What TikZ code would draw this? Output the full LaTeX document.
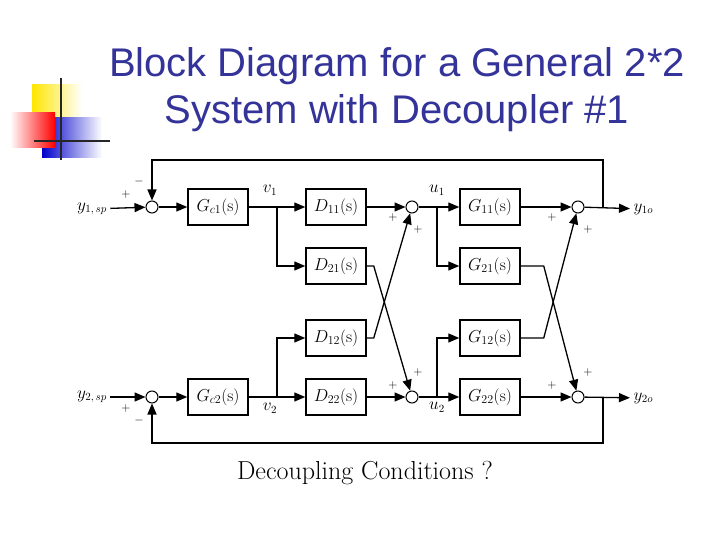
\documentclass[tikz,border=0pt]{standalone}
\usepackage{fontspec}
\newfontfamily\titlefont{Liberation Sans}
\usetikzlibrary{arrows.meta}
\definecolor{titleblue}{RGB}{51,51,153}
\tikzset{
  blk/.style={draw, line width=1.5pt, minimum width=60pt, minimum height=36pt, inner sep=0pt, font=\fontsize{17}{17}\selectfont},
  sum/.style={draw, line width=1pt, circle, minimum size=12pt, inner sep=0pt},
  sgn/.style={font=\fontsize{13}{13}\selectfont},
  lbl/.style={font=\fontsize{16}{16}\selectfont},
  sig/.style={-{Triangle[length=11pt,width=9pt]}},
}
\begin{document}
\begin{tikzpicture}[x=1pt,y=-1pt]
\useasboundingbox (0,0) rectangle (720,540);

% logo
\shade[left color=yellow!80!orange, right color=white] (32,85) rectangle (82,120);
\shade[left color=blue!80!black, right color=white] (42,118) rectangle (102,158);
\shade[left color=white, right color=red] (10,113) rectangle (55,148);
\draw[line width=2pt, black!85] (61,78) -- (61,160);
\draw[line width=2pt, black!85] (34,141) -- (110,141);

% title
\node[font=\titlefont\fontsize{40}{47}\selectfont, text=titleblue, align=center] (title) at (397,90)
  {Block Diagram for a General 2*2\\System with Decoupler \#1};

% blocks
\node[sum] (s1) at (152,207) {};
\node[sum] (s2) at (152,397) {};
\node[blk] (gc1) at (218,207) {$G_{c1}$(s)};
\node[blk] (gc2) at (218,397) {$G_{c2}$(s)};
\node[blk] (d11) at (336,207) {$D_{11}$(s)};
\node[blk] (d21) at (336,266) {$D_{21}$(s)};
\node[blk] (d12) at (336,338) {$D_{12}$(s)};
\node[blk] (d22) at (336,397) {$D_{22}$(s)};
\node[sum] (s3) at (412,207) {};
\node[sum] (s4) at (412,397) {};
\node[blk] (g11) at (490,207) {$G_{11}$(s)};
\node[blk] (g21) at (490,266) {$G_{21}$(s)};
\node[blk] (g12) at (490,338) {$G_{12}$(s)};
\node[blk] (g22) at (490,397) {$G_{22}$(s)};
\node[sum] (s5) at (578,207) {};
\node[sum] (s6) at (578,397) {};

\node[lbl] (r1) at (92,209) {$y_{1,\,sp}$};
\node[lbl] (r2) at (92,397) {$y_{2,\,sp}$};
\node[lbl, anchor=west] (o1) at (630,209) {$y_{1o}$};
\node[lbl, anchor=west] (o2) at (630,398) {$y_{2o}$};
\node[lbl] at (270,190) {$v_1$};
\node[lbl] at (270,408) {$v_2$};
\node[lbl] at (437,190) {$u_1$};
\node[lbl] at (437,407) {$u_2$};

\coordinate (b1) at (277,207);
\coordinate (b2) at (277,397);
\coordinate (c1) at (437,207);
\coordinate (c2) at (437,397);
\coordinate (f1) at (603,207);
\coordinate (f2) at (603,397);

\begin{scope}[line width=1.3pt]
  \draw[sig] (r1) -- (s1);
  \draw[sig] (r2) -- (s2);
  \draw[sig] (s1) -- (gc1);
  \draw[sig] (s2) -- (gc2);
  \draw[sig] (gc1) -- (d11);
  \draw[sig] (gc2) -- (d22);
  \draw[sig] (b1) |- (d21);
  \draw[sig] (b2) |- (d12);
  \draw[sig] (d11) -- (s3);
  \draw[sig] (d22) -- (s4);
  \draw[sig] (d21.east) -- ++(7,0) -- (s4);
  \draw[sig] (d12.east) -- ++(7,0) -- (s3);
  \draw[sig] (s3) -- (g11);
  \draw[sig] (s4) -- (g22);
  \draw[sig] (c1) |- (g21);
  \draw[sig] (c2) |- (g12);
  \draw[sig] (g11) -- (s5);
  \draw[sig] (g22) -- (s6);
  \draw[sig] (g21.east) -- ++(23,0) -- (s6);
  \draw[sig] (g12.east) -- ++(23,0) -- (s5);
  \draw[sig] (s5) -- (o1);
  \draw[sig] (s6) -- (o2);
  \draw[sig] (f1) -- (603,160) -| (s1);
  \draw[sig] (f2) -- (603,443) -| (s2);
\end{scope}

% signs
\node[sgn] at (126,195) {$+$};
\node[sgn] at (139,182) {$-$};
\node[sgn] at (126,408) {$+$};
\node[sgn] at (139,420) {$-$};
\node[sgn] at (393,218) {$+$};
\node[sgn] at (418,230) {$+$};
\node[sgn] at (393,385) {$+$};
\node[sgn] at (418,372) {$+$};
\node[sgn] at (552,218) {$+$};
\node[sgn] at (588,230) {$+$};
\node[sgn] at (552,385) {$+$};
\node[sgn] at (588,372) {$+$};

\node[font=\fontsize{26}{26}\selectfont] (cond) at (365,473) {Decoupling Conditions ?};
\end{tikzpicture}
\end{document}
